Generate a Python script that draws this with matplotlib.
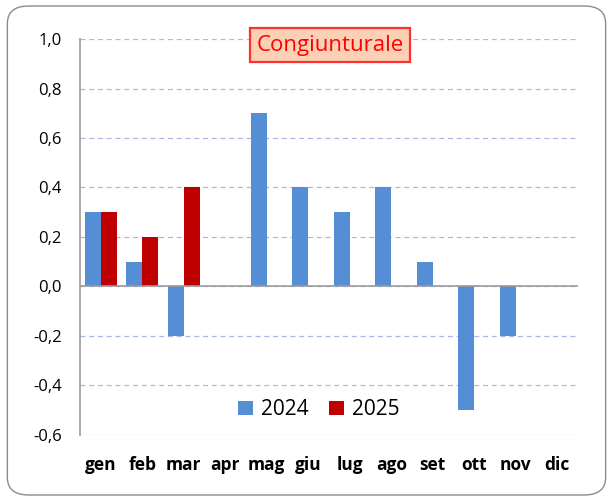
import numpy as np
import matplotlib.pyplot as plt
from matplotlib.patches import FancyBboxPatch

mesi = ['gen', 'feb', 'mar', 'apr', 'mag', 'giu', 'lug', 'ago', 'set', 'ott', 'nov', 'dic']
v2024 = [0.3, 0.1, -0.2, np.nan, 0.7, 0.4, 0.3, 0.4, 0.1, -0.5, -0.2, np.nan]
v2025 = [0.3, 0.2, 0.4, np.nan, np.nan, np.nan, np.nan, np.nan, np.nan, np.nan, np.nan, np.nan]
yticks = [-0.6, -0.4, -0.2, 0.0, 0.2, 0.4, 0.6, 0.8, 1.0]

plt.rcParams['font.family'] = ['Open Sans', 'DejaVu Sans']

fig = plt.figure(figsize=(6.13, 5.01), dpi=100)
fig.patches.append(FancyBboxPatch((0.012, 0.012), 0.976, 0.976, boxstyle='round,pad=0,rounding_size=0.035',
                                  transform=fig.transFigure, fc='white', ec='#8c8c8c', lw=1.0,
                                  zorder=-5))
ax = fig.add_axes([0.1305, 0.132, 0.8125, 0.79])
ax.set_facecolor('none')
ax.set_zorder(2)

x = np.arange(len(mesi))
w = 0.385
ax.bar(x - w / 2, v2024, w, color='#558ed5', label='2024', zorder=3)
ax.bar(x + w / 2, v2025, w, color='#c00000', label='2025', zorder=3)

ax.set_xlim(-0.5, 11.5)
ax.set_ylim(-0.6, 1.0)
ax.set_yticks(yticks)
ax.set_yticklabels([f'{t:.1f}'.replace('.', ',') for t in yticks], fontsize=12)
ax.yaxis.grid(True, ls=(0, (4, 3)), color='#aab8e8', lw=0.9, zorder=0)
ax.axhline(0, color='#9a9a9a', lw=1.2, zorder=4)
for s in ['top', 'right', 'bottom']:
    ax.spines[s].set_visible(False)
ax.spines['left'].set_color('#9a9a9a')
ax.spines['left'].set_linewidth(1.2)
ax.tick_params(axis='y', length=0, pad=13)
ax.tick_params(axis='x', length=0, pad=15)
ax.set_xticks(x)
ax.set_xticklabels(mesi, fontsize=12.5, fontweight='bold')

ax.text(0.502, 0.985, 'Congiunturale', transform=ax.transAxes, ha='center', va='center',
        fontsize=16, color='#ff0000',
        bbox=dict(boxstyle='square,pad=0.3', fc='#fcd0b4', ec='#ff3030', lw=1.6), zorder=6)

ax.legend(loc='center', bbox_to_anchor=(0.48, 0.063), ncol=2, frameon=False, fontsize=15,
          handlelength=0.7, handleheight=0.7, handletextpad=0.4, columnspacing=1.0)

fig.savefig('out.png', dpi=100)
